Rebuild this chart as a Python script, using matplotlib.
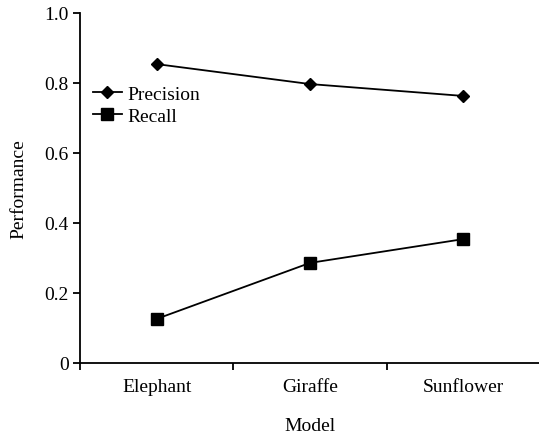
import matplotlib
import matplotlib.pyplot as plt

matplotlib.use("Agg")

plt.rcParams["font.family"] = ["Liberation Serif", "DejaVu Serif"]

models = ["Elephant", "Giraffe", "Sunflower"]
precision = [0.854, 0.797, 0.763]
recall = [0.126, 0.286, 0.354]
y_ticks = [0, 0.2, 0.4, 0.6, 0.8, 1.0]
y_tick_labels = ["0", "0.2", "0.4", "0.6", "0.8", "1.0"]

FS = 14

fig = plt.figure(figsize=(5.39, 4.35), dpi=100)
ax = fig.add_axes([80 / 539, 71 / 435, 460 / 539, 350 / 435])

x = list(range(len(models)))
ax.plot(x, precision, color="black", lw=1.3, marker="D", ms=6.5, label="Precision")
ax.plot(x, recall, color="black", lw=1.3, marker="s", ms=8, label="Recall")

ax.set_xlim(-0.5, len(models) - 0.5)
ax.set_ylim(0, 1.0)
ax.set_yticks(y_ticks)
ax.set_yticklabels(y_tick_labels)
ax.set_xticks([i - 0.5 for i in range(len(models) + 1)])
ax.set_xticklabels([])
ax.set_xticks(x, minor=True)
ax.set_xticklabels(models, minor=True)
ax.tick_params(axis="x", which="minor", length=0, pad=11, labelsize=FS)
ax.tick_params(axis="x", which="major", direction="out", length=5, width=1.3)
ax.tick_params(axis="y", direction="out", length=5, width=1.3, labelsize=FS, pad=3)

for side in ["top", "right"]:
    ax.spines[side].set_visible(False)
for side in ["left", "bottom"]:
    ax.spines[side].set_linewidth(1.3)

ax.set_xlabel("Model", fontsize=FS, labelpad=16)
ax.set_ylabel("Performance", fontsize=FS, labelpad=12)

ax.legend(
    loc="upper left",
    bbox_to_anchor=(0.028, 0.793),
    frameon=False,
    fontsize=FS,
    handlelength=1.5,
    handletextpad=0.3,
    labelspacing=0.23,
    borderpad=0,
    borderaxespad=0,
)

fig.savefig("out.png", dpi=100)
